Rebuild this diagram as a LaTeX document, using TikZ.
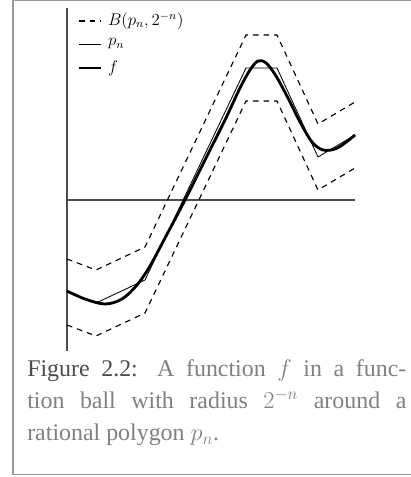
\documentclass[tikz,border=0pt]{standalone}
\usepackage{fontspec}
\setmainfont{Liberation Serif}
\usetikzlibrary{positioning}

\begin{document}
\begin{tikzpicture}
    [x=0.025cm, y=-0.025cm,
    axis/.style={line width=1pt, black!70},
    ball/.style={line width=0.8pt, dash pattern=on 4pt off 3.5pt},
    poly/.style={line width=0.6pt},
    func/.style={line width=2pt, line join=round},
    legend/.style={inner sep=0pt, anchor=west, font=\fontsize{11.5}{13}\selectfont},
    node distance=0.17cm]
    \useasboundingbox (0,0) rectangle (411,477);
    %% Frame
    \draw[black!40, line width=1.4pt] (430,0.5) -- (13,0.5) -- (13,474.5) -- (430,474.5);

    %% Axes
    \coordinate (O) at (67,200);
    \coordinate (top) at (67,8);
    \coordinate (bot) at (67,351);
    \coordinate (end) at (355,200);
    \draw[axis] (top) -- (bot);
    \draw[axis] (O) -- (end);

    %% Polygon p_n and the ball around it
    \foreach \s/\st in {0/poly, -33/ball, 33/ball}
        \draw[\st] (67,292+\s) -- (96,303+\s) -- (145,280+\s) -- (246,68+\s)
            -- (277,68+\s) -- (318,157+\s) -- (355,135+\s);

    %% Function f
    \draw[func] plot[smooth, tension=0.55] coordinates {(67,291) (85,299) (105,304)
        (122,299) (137,285) (150,266) (165,238) (185,200) (205,160) (225,120)
        (240,88) (250,70) (258,61) (266,63) (276,76) (289,100) (300,122)
        (312,142) (323,150) (335,149) (345,143) (355,135)};

    %% Legend
    \coordinate (B1) at (79,21);
    \coordinate (B2) at (101,21);
    \coordinate (P1) at (79,44);
    \coordinate (P2) at (101,44);
    \coordinate (F1) at (79,68);
    \coordinate (F2) at (101,68);
    \draw[ball] (B1) -- (B2);
    \draw[poly] (P1) -- (P2);
    \draw[func] (F1) -- (F2);
    \node[legend, right=of B2] (lB) {$B(p_n,2^{-n})$};
    \node[legend, right=of P2] (lP) {$p_n$};
    \node[legend, right=of F2] (lF) {$f$};

    %% Caption
    \node[anchor=north west, text width=9.475cm, inner sep=0pt, align=justify,
        font=\fontsize{17}{23}\selectfont, text=black!50] (cap) at (27,359)
        {\textcolor{black!70}{Figure 2.2:} A function $f$ in a func-\linebreak
        tion ball with radius $2^{-n}$ around a\linebreak rational polygon $p_n$.};
\end{tikzpicture}
\end{document}
